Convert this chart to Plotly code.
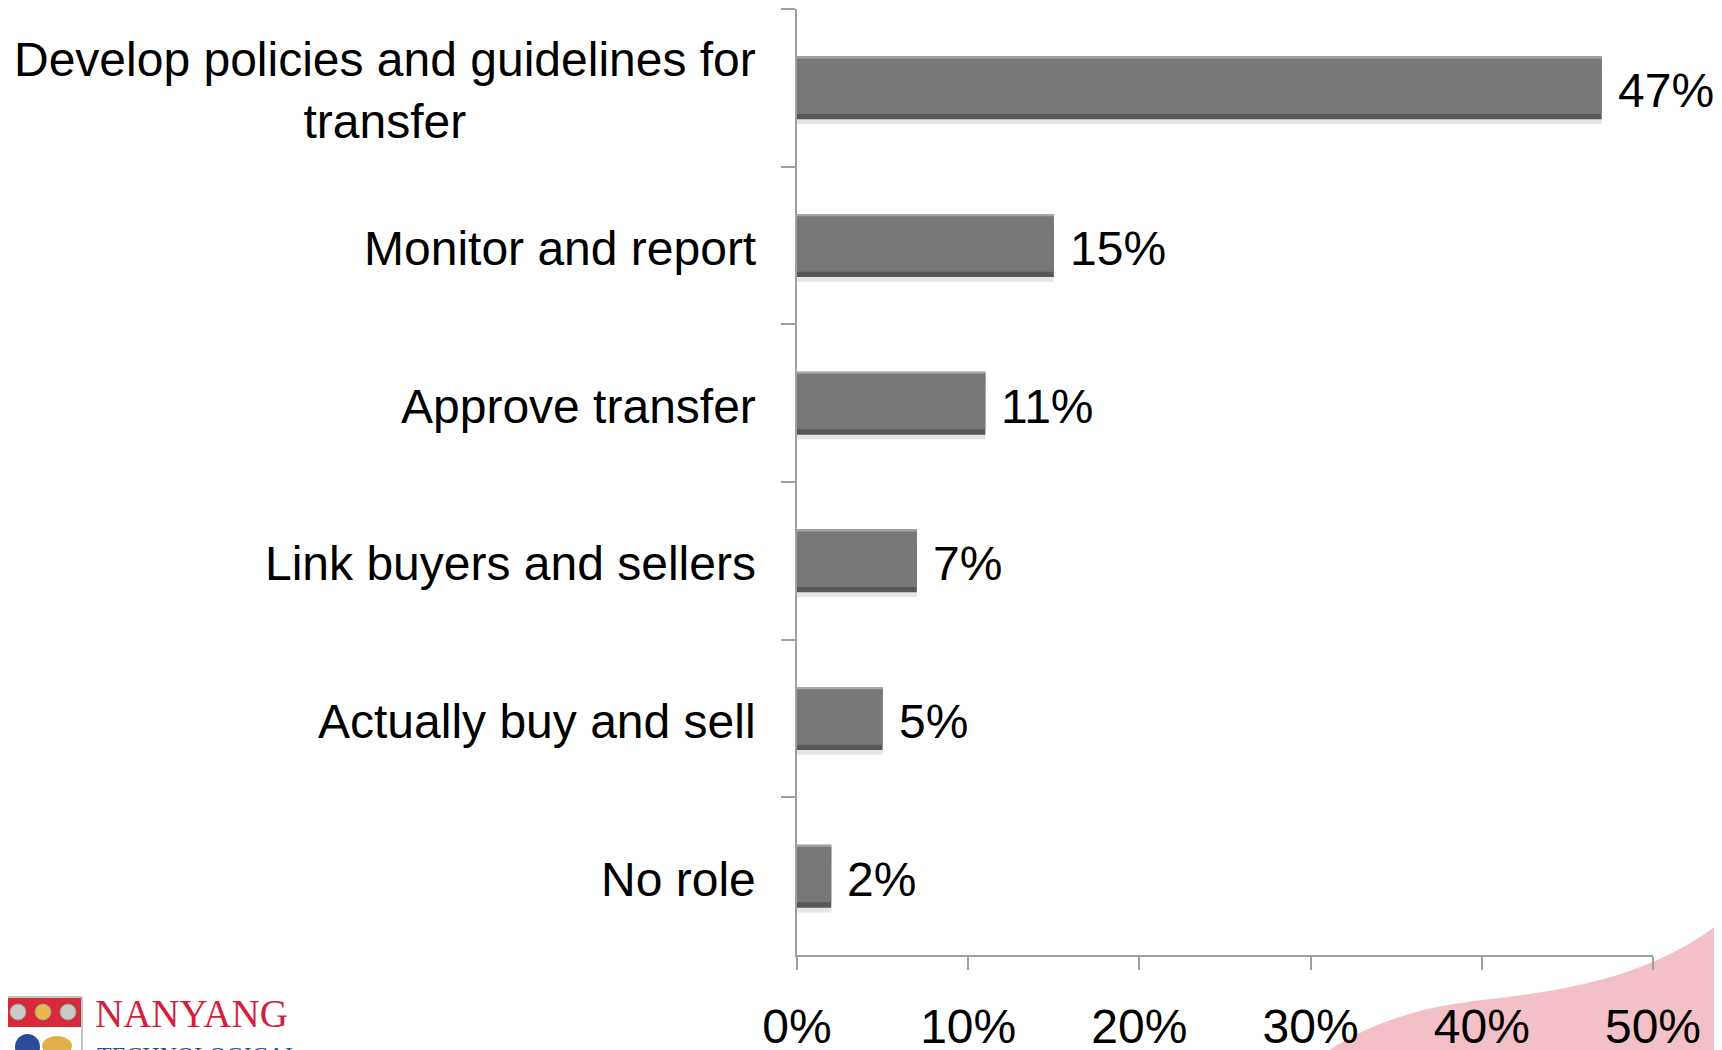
import plotly.graph_objects as go

categories = [
    "Develop policies and guidelines for<br>transfer",
    "Monitor and report",
    "Approve transfer",
    "Link buyers and sellers",
    "Actually buy and sell",
    "No role",
]
values = [47, 15, 11, 7, 5, 2]
x_ticks = [0, 10, 20, 30, 40, 50]
x_tick_labels = ["0%", "10%", "20%", "30%", "40%", "50%"]

# page body has an 8px margin; size the figure so it fills the window
OFF = 8
W, H = 1722 - OFF, 1050 - OFF
L, T = 797 - OFF, 9 - OFF
PLOT_R, PLOT_B = 1653 - OFF, 955 - OFF
R, B = W - PLOT_R, H - PLOT_B
PW, PH = PLOT_R - L, PLOT_B - T

def px(x):  # page pixel -> paper
    return (x - OFF - L) / PW

def py(y):
    return (PLOT_B - (y - OFF)) / PH

FONT = "Liberation Sans, Arial, Helvetica, sans-serif"
AXIS = "#a0a0a0"

fig = go.Figure()
# soft shadow
fig.add_trace(go.Bar(y=categories, x=values, orientation="h",
                     marker=dict(color="rgba(0,0,0,0.10)", line=dict(width=0)),
                     width=0.4, offset=-0.17, hoverinfo="skip", showlegend=False))
# dark base (bottom bevel)
fig.add_trace(go.Bar(y=categories, x=values, orientation="h",
                     marker=dict(color="#575757", line=dict(width=0)),
                     width=0.4, offset=-0.2, hoverinfo="skip", showlegend=False))
# light top edge
fig.add_trace(go.Bar(y=categories, x=values, orientation="h",
                     marker=dict(color="#a6a6a6", line=dict(width=0)),
                     width=0.1, offset=-0.2, hoverinfo="skip", showlegend=False))
# body
fig.add_trace(go.Bar(y=categories, x=values, orientation="h",
                     marker=dict(color="#787878", line=dict(width=0)),
                     width=0.352, offset=-0.186, hoverinfo="skip", showlegend=False))

annotations = []
for c, v in zip(categories, values):
    annotations.append(dict(
        x=v, y=c, xref="x", yref="y", text=f"{v}%", showarrow=False,
        xanchor="left", xshift=14, yshift=-3,
        font=dict(family=FONT, size=48, color="black"),
    ))
    annotations.append(dict(
        x=0, y=c, xref="paper", yref="y", text=c, showarrow=False,
        xanchor="right", align="center", xshift=-39, yshift=-3,
        font=dict(family=FONT, size=48, color="black"),
    ))

# logo text
annotations.append(dict(
    x=px(93), y=py(1013), xref="paper", yref="paper", text="NANYANG",
    showarrow=False, xanchor="left", yanchor="middle",
    font=dict(family="Liberation Serif, Times New Roman, serif", size=39, color="#d21f3c"),
))
annotations.append(dict(
    x=px(95), y=py(1040), xref="paper", yref="paper", text="TECHNOLOGICAL",
    showarrow=False, xanchor="left", yanchor="top",
    font=dict(family="Liberation Serif, Times New Roman, serif", size=24, color="#2b4c9b"),
))

shapes = []
# pink swoosh
path = f"M {px(1326)},{py(1052)}"
path += f" C {px(1385)},{py(1014)} {px(1440)},{py(1004)} {px(1500)},{py(998)}"
path += f" C {px(1600)},{py(986)} {px(1665)},{py(966)} {px(1724)},{py(920)}"
path += f" L {px(1724)},{py(1052)} Z"
shapes.append(dict(type="path", path=path, xref="paper", yref="paper",
                   fillcolor="#f4c0c7", line=dict(width=0), layer="below"))
# crest
shapes.append(dict(type="rect", xref="paper", yref="paper",
                   x0=px(4), x1=px(82), y0=py(997), y1=py(1052),
                   fillcolor="white", line=dict(color="#888888", width=1)))
shapes.append(dict(type="rect", xref="paper", yref="paper",
                   x0=px(5), x1=px(81), y0=py(998), y1=py(1027),
                   fillcolor="#d62a3a", line=dict(width=0)))
for cx, col in [(18, "#c9c9c9"), (43, "#e8b84a"), (68, "#c9c9c9")]:
    shapes.append(dict(type="circle", xref="paper", yref="paper",
                       x0=px(cx - 8), x1=px(cx + 8), y0=py(1004), y1=py(1020),
                       fillcolor=col, line=dict(color="#999999", width=1)))
shapes.append(dict(type="circle", xref="paper", yref="paper",
                   x0=px(15), x1=px(40), y0=py(1034), y1=py(1060),
                   fillcolor="#2b4c9b", line=dict(width=0)))
shapes.append(dict(type="circle", xref="paper", yref="paper",
                   x0=px(42), x1=px(72), y0=py(1036), y1=py(1056),
                   fillcolor="#e2b04a", line=dict(width=0)))

fig.update_layout(
    width=W, height=H,
    margin=dict(l=L, r=R, t=T, b=B, pad=0, autoexpand=False),
    paper_bgcolor="white", plot_bgcolor="white",
    barmode="overlay",
    annotations=annotations, shapes=shapes,
    xaxis=dict(
        range=[0, 50], tickvals=x_ticks, ticktext=x_tick_labels,
        showgrid=False, zeroline=False, automargin=False,
        showline=True, linecolor=AXIS, linewidth=2,
        ticks="outside", ticklen=13, tickwidth=2, tickcolor=AXIS,
        ticklabelstandoff=15,
        tickfont=dict(family=FONT, size=48, color="black"),
        fixedrange=True,
    ),
    yaxis=dict(
        type="category", autorange="reversed",
        showgrid=False, zeroline=False, automargin=False,
        showline=True, linecolor=AXIS, linewidth=2,
        ticks="outside", ticklen=14, tickwidth=2, tickcolor=AXIS,
        tickson="boundaries", showticklabels=False,
        fixedrange=True,
    ),
)

fig.write_html("out.html")
